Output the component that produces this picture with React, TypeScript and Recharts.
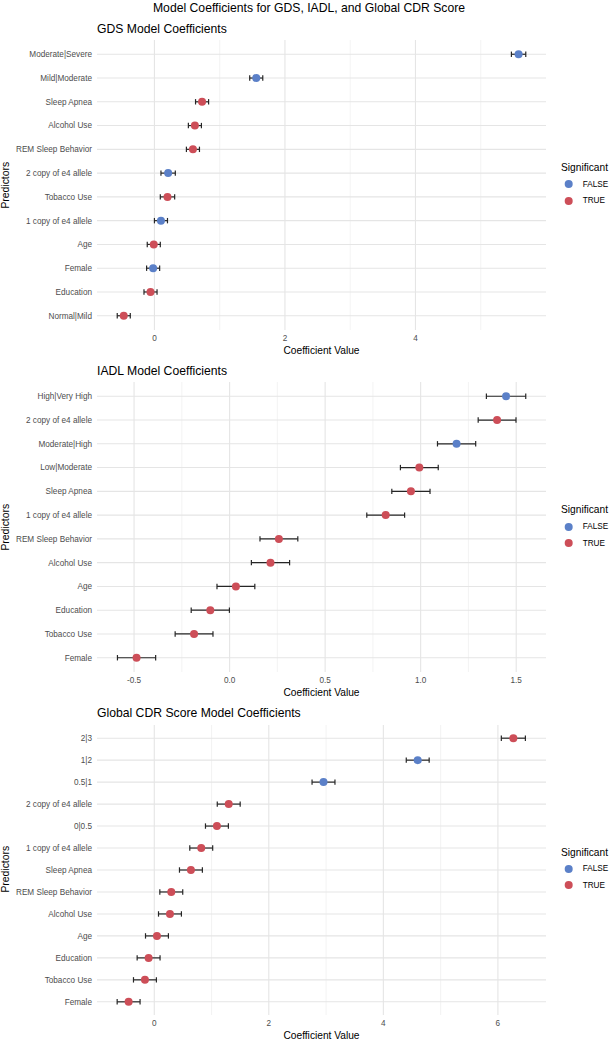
import { ScatterChart, Scatter, XAxis, YAxis, CartesianGrid, ErrorBar, Legend } from 'recharts'

// Coefficient plots for the three ordinal models, stacked vertically.
// Each panel: coefficient point + error bar per term, coloured by significance.

const FONT = '"Liberation Sans", Arial, Helvetica, sans-serif'

const sigLevels = ['FALSE', 'TRUE']
const sigColors = ['#5b80c8', '#cd4e58']

// GDS model (top to bottom as plotted)
const gdsTerms = [
  'Moderate|Severe',
  'Mild|Moderate',
  'Sleep Apnea',
  'Alcohol Use',
  'REM Sleep Behavior',
  '2 copy of e4 allele',
  'Tobacco Use',
  '1 copy of e4 allele',
  'Age',
  'Female',
  'Education',
  'Normal|Mild',
]
const gdsCoef = [5.58, 1.56, 0.73, 0.62, 0.59, 0.21, 0.2, 0.1, -0.01, -0.02, -0.06, -0.47]
const gdsErr = [0.11, 0.1, 0.1, 0.1, 0.1, 0.11, 0.11, 0.1, 0.1, 0.1, 0.1, 0.1]
const gdsSig = [false, false, true, true, true, false, true, false, true, false, true, true]
const gdsTicks = [0, 2, 4]
const gdsMinor = [1, 3, 5]
const gdsRange: [number, number] = [-0.88, 6.0]

// IADL model
const iadlTerms = [
  'High|Very High',
  '2 copy of e4 allele',
  'Moderate|High',
  'Low|Moderate',
  'Sleep Apnea',
  '1 copy of e4 allele',
  'REM Sleep Behavior',
  'Alcohol Use',
  'Age',
  'Education',
  'Tobacco Use',
  'Female',
]
const iadlCoef = [1.447, 1.4, 1.188, 0.993, 0.949, 0.817, 0.258, 0.214, 0.033, -0.101, -0.186, -0.487]
const iadlErr = [0.103, 0.099, 0.1, 0.099, 0.1, 0.099, 0.099, 0.1, 0.099, 0.1, 0.099, 0.1]
const iadlSig = [false, true, false, true, true, true, true, true, true, true, true, true]
const iadlTicks = [-0.5, 0, 0.5, 1, 1.5]
const iadlMinor = [-0.25, 0.25, 0.75, 1.25]
const iadlRange: [number, number] = [-0.694, 1.656]

// Global CDR model
const cdrTerms = [
  '2|3',
  '1|2',
  '0.5|1',
  '2 copy of e4 allele',
  '0|0.5',
  '1 copy of e4 allele',
  'Sleep Apnea',
  'REM Sleep Behavior',
  'Alcohol Use',
  'Age',
  'Education',
  'Tobacco Use',
  'Female',
]
const cdrCoef = [6.27, 4.6, 2.955, 1.3, 1.094, 0.82, 0.64, 0.297, 0.274, 0.047, -0.099, -0.163, -0.448]
const cdrErr = [0.21, 0.2, 0.2, 0.2, 0.2, 0.2, 0.2, 0.2, 0.2, 0.2, 0.2, 0.2, 0.2]
const cdrSig = [true, false, false, true, true, true, true, true, true, true, true, true, true]
const cdrTicks = [0, 2, 4, 6]
const cdrMinor = [1, 3, 5]
const cdrRange: [number, number] = [-1.0, 6.84]

const CHART_W = 610
const CHART_H = 360
const PLOT_TOP = 40
const PLOT_H = 290
const AXIS_W = 97

interface PanelProps {
  title: string
  terms: string[]
  coef: number[]
  err: number[]
  sig: boolean[]
  range: [number, number]
  ticks: number[]
  minor: number[]
  fmt: (v: number) => string
  top: number // page y of the panel's plotting area
}

function SigLegend() {
  return (
    <div style={{ fontFamily: FONT, color: '#000' }}>
      <div style={{ fontSize: 10.2, lineHeight: '13px', whiteSpace: 'nowrap' }}>Significant</div>
      {sigLevels.map((lvl, i) => (
        <div
          key={lvl}
          style={{ display: 'flex', alignItems: 'center', height: 16.5, marginTop: i === 0 ? 2 : 0, fontSize: 8.2 }}
        >
          <svg width={21.7} height={16}>
            <circle cx={7.7} cy={8} r={4} fill={sigColors[i]} />
          </svg>
          <span>{lvl}</span>
        </div>
      ))}
    </div>
  )
}

function Panel({ title, terms, coef, err, sig, range, ticks, minor, fmt, top }: PanelProps) {
  const n = terms.length
  // first term goes in the top row
  const rows = terms.map((term, i) => ({ term, coef: coef[i], err: err[i], sig: sig[i], row: n - 1 - i }))
  const rowTicks = rows.map((r) => r.row)
  const label = (v: number) => terms[n - 1 - v] ?? ''
  const mid = PLOT_TOP + PLOT_H / 2

  // plain <text> so long term names stay on one line
  const termTick = (p: any) => (
    <text x={p.x} y={p.y} dy="0.355em" textAnchor="end" fontSize={8.2} fill="#4d4d4d">
      {label(p.payload.value)}
    </text>
  )

  return (
    <>
      <div
        style={{
          position: 'absolute',
          left: AXIS_W,
          top: top - 17.5,
          fontSize: 12.2,
          lineHeight: '12.2px',
          whiteSpace: 'nowrap',
        }}
      >
        {title}
      </div>
      <div
        style={{
          position: 'absolute',
          left: 6 - 40,
          top: top + PLOT_H / 2 - 5.2,
          width: 80,
          fontSize: 10.4,
          lineHeight: '10.4px',
          textAlign: 'center',
          transform: 'rotate(-90deg)',
        }}
      >
        Predictors
      </div>
      <div style={{ position: 'absolute', left: 0, top: top - PLOT_TOP }}>
        <ScatterChart
          width={CHART_W}
          height={CHART_H}
          margin={{ top: PLOT_TOP, right: CHART_W - AXIS_W - 449, bottom: 0, left: 0 }}
        >
          <CartesianGrid horizontal={false} verticalValues={minor} stroke="#eeeeee" strokeWidth={0.7} />
          <CartesianGrid horizontalValues={rowTicks} verticalValues={ticks} stroke="#e5e5e5" strokeWidth={1.1} />
          <XAxis
            type="number"
            dataKey="coef"
            domain={range}
            ticks={ticks}
            interval={0}
            allowDataOverflow
            tickFormatter={fmt}
            axisLine={false}
            tickLine={false}
            tickSize={0}
            tickMargin={5}
            height={CHART_H - PLOT_TOP - PLOT_H}
            tick={{ fontSize: 8.2, fill: '#4d4d4d' }}
            label={{ value: 'Coefficient Value', position: 'insideBottom', offset: 6, fontSize: 10.2, fill: '#000' }}
          />
          <YAxis
            type="number"
            dataKey="row"
            domain={[-0.6, n - 0.4]}
            ticks={rowTicks}
            interval={0}
            allowDataOverflow
            axisLine={false}
            tickLine={false}
            tickSize={0}
            tickMargin={5}
            width={AXIS_W}
            tick={termTick}
          />
          {sigLevels.map((lvl, i) => (
            <Scatter
              key={lvl}
              name={lvl}
              data={rows.filter((r) => r.sig === (lvl === 'TRUE'))}
              fill={sigColors[i]}
              isAnimationActive={false}
              shape={(p: any) => <circle cx={p.cx} cy={p.cy} r={4} fill={sigColors[i]} />}
            />
          ))}
          {/* error bars drawn last so they sit over the points */}
          <Scatter data={rows} legendType="none" isAnimationActive={false} shape={() => <g />}>
            <ErrorBar dataKey="err" direction="x" width={2.7} stroke="#262626" strokeWidth={1.2} />
          </Scatter>
          <Legend
            layout="vertical"
            align="center"
            verticalAlign="middle"
            wrapperStyle={{ left: 561, top: mid - 24, width: 60 }}
            content={() => <SigLegend />}
          />
        </ScatterChart>
      </div>
    </>
  )
}

export default function App() {
  return (
    <div
      style={{
        position: 'absolute',
        left: 0,
        top: 0,
        width: 610,
        height: 1041,
        background: '#fff',
        fontFamily: FONT,
        color: '#000',
        overflow: 'hidden',
      }}
    >
      <div
        style={{
          position: 'absolute',
          left: 0,
          width: 618,
          top: 2,
          fontSize: 12.2,
          lineHeight: '12.2px',
          textAlign: 'center',
          whiteSpace: 'nowrap',
        }}
      >
        Model Coefficients for GDS, IADL, and Global CDR Score
      </div>
      <Panel
        title="GDS Model Coefficients"
        terms={gdsTerms}
        coef={gdsCoef}
        err={gdsErr}
        sig={gdsSig}
        range={gdsRange}
        ticks={gdsTicks}
        minor={gdsMinor}
        fmt={(v) => String(v)}
        top={40}
      />
      <Panel
        title="IADL Model Coefficients"
        terms={iadlTerms}
        coef={iadlCoef}
        err={iadlErr}
        sig={iadlSig}
        range={iadlRange}
        ticks={iadlTicks}
        minor={iadlMinor}
        fmt={(v) => v.toFixed(1)}
        top={382.3}
      />
      <Panel
        title="Global CDR Score Model Coefficients"
        terms={cdrTerms}
        coef={cdrCoef}
        err={cdrErr}
        sig={cdrSig}
        range={cdrRange}
        ticks={cdrTicks}
        minor={cdrMinor}
        fmt={(v) => String(v)}
        top={724.6}
      />
    </div>
  )
}
